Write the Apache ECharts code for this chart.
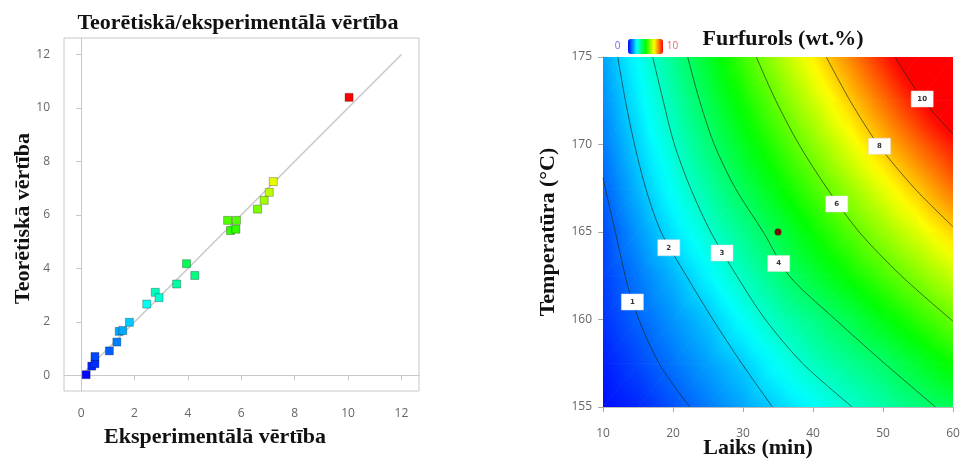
<!DOCTYPE html>
<html><head><meta charset="utf-8">
<script src="https://cdn.jsdelivr.net/npm/echarts@6/dist/echarts.min.js"></script>
<style>html,body{margin:0;padding:0;background:#fff}#c{width:962px;height:462px}</style>
</head><body><div id="c"></div>
<script>
// ---------- Left chart: theoretical vs experimental values ----------
const experimental = [0.19,0.40,0.52,0.52,1.06,1.34,1.43,1.56,1.81,2.46,2.78,2.92,3.58,3.95,4.26,5.49,5.82,5.60,5.80,6.61,6.86,7.05,7.20,10.04];
const theoretical  = [0.03,0.35,0.44,0.71,0.92,1.25,1.65,1.68,1.99,2.67,3.11,2.91,3.42,4.18,3.74,5.80,5.80,5.42,5.47,6.22,6.55,6.85,7.25,10.40];
const parityLine = [0, 12];
const leftTicks = [0, 2, 4, 6, 8, 10, 12];

// ---------- Right chart: furfural response surface ----------
const timeNodes = [10, 15, 20, 25, 30, 35, 40, 45, 50, 55, 60];
const tempNodes = [155, 157.5, 160, 162.5, 165, 167.5, 170, 172.5, 175];
const furfuralGrid = [
  [0.10, 0.37, 0.80, 1.22, 1.64, 2.07, 2.51, 2.95, 3.37, 3.79, 4.20],
  [0.28, 0.71, 1.15, 1.58, 2.02, 2.60, 3.13, 3.56, 3.98, 4.54, 5.10],
  [0.50, 0.98, 1.46, 1.93, 2.57, 3.18, 3.68, 4.22, 4.82, 5.42, 6.02],
  [0.62, 1.20, 1.78, 2.43, 3.12, 3.79, 4.43, 5.05, 5.68, 6.31, 6.96],
  [0.72, 1.49, 2.24, 2.94, 3.61, 4.31, 5.04, 5.77, 6.49, 7.20, 7.91],
  [0.95, 1.81, 2.63, 3.41, 4.17, 4.93, 5.69, 6.48, 7.28, 8.08, 8.90],
  [1.20, 2.09, 2.96, 3.84, 4.68, 5.50, 6.35, 7.24, 8.12, 8.97, 9.78],
  [1.40, 2.34, 3.28, 4.22, 5.14, 6.06, 7.00, 7.94, 8.90, 9.85, 10.80],
  [1.60, 2.58, 3.58, 4.59, 5.61, 6.62, 7.62, 8.63, 9.65, 10.67, 11.70]
];
const contourLevels = [1, 2, 3, 4, 6, 8, 10];
const contour1  = [[10,168.1],[11.7,165.1],[14.2,161.0],[18.0,157.5],[22.4,155]];
const contour2  = [[12.1,175],[13.2,172.5],[14.5,170],[16.1,167.5],[18.3,165],[21.9,162.5],[25.7,160],[29.8,157.5],[34.2,155]];
const contour3  = [[17.1,175],[18.6,172.5],[20.2,170],[22.5,167.5],[25.4,165],[29.1,162.5],[33.2,160],[38.5,157.5],[45.6,155]];
const contour4  = [[22.1,175],[23.8,172.5],[25.9,170],[28.9,167.5],[32.9,165],[36.6,162.5],[43.2,160],[50.2,157.5],[57.5,155]];
const contour6  = [[31.9,175],[34.7,172.5],[38.0,170],[42.0,167.5],[46.6,165],[52.6,162.5],[60,159.9]];
const contour8  = [[41.9,175],[45.3,172.5],[49.3,170],[54.5,167.5],[60,165.3]];
const contour10 = [[51.7,175],[55.8,172.5],[60,170.6]];
const labelTimes = [14.2, 19.4, 27.0, 35.1, 43.4, 49.5, 55.6];
const labelTemps = [161.0, 164.1, 163.8, 163.2, 166.6, 169.9, 172.6];
const centerPoint = [35, 165];
const legendMin = 0, legendMax = 10;

// ---------- colour scale ----------
const JET = [[0,[0,0,255]],[2.5,[0,255,255]],[5,[0,255,0]],[7.5,[255,255,0]],[10,[255,0,0]]];
const jetColors = JET.map(s => 'rgb(' + s[1].join(',') + ')');
function jet(v) {
  v = Math.max(0, Math.min(10, v));
  for (let k = 1; k < JET.length; k++) {
    if (v <= JET[k][0]) {
      const a = JET[k-1], b = JET[k], f = (v - a[0]) / (b[0] - a[0]);
      return 'rgb(' + [0,1,2].map(c => Math.round(a[1][c] + (b[1][c] - a[1][c]) * f)).join(',') + ')';
    }
  }
  return 'rgb(255,0,0)';
}
function triangle(pts, vals) {
  const [p0, p1, p2] = pts, [v0, v1, v2] = vals;
  const e1x = p1[0]-p0[0], e1y = p1[1]-p0[1], e2x = p2[0]-p0[0], e2y = p2[1]-p0[1];
  const d1 = v1 - v0, d2 = v2 - v0, det = e1x*e2y - e1y*e2x;
  const vmin = Math.min(v0, v1, v2), vmax = Math.max(v0, v1, v2);
  let fill;
  if (Math.abs(det) < 1e-9 || vmax - vmin < 1e-6) fill = jet((v0+v1+v2)/3);
  else {
    const gx = (d1*e2y - d2*e1y) / det, gy = (e1x*d2 - e2x*d1) / det, g2 = gx*gx + gy*gy;
    const sx = p0[0] + gx*(vmin-v0)/g2, sy = p0[1] + gy*(vmin-v0)/g2;
    const ex = p0[0] + gx*(vmax-v0)/g2, ey = p0[1] + gy*(vmax-v0)/g2;
    const stops = [];
    for (let s = 0; s <= 6; s++) stops.push({offset: s/6, color: jet(vmin + (vmax-vmin)*s/6)});
    fill = new echarts.graphic.LinearGradient(sx, sy, ex, ey, stops, true);
  }
  return {type: 'polygon', shape: {points: pts}, style: {fill: fill, stroke: fill, lineWidth: 0.8}};
}

const cells = [];
for (let r = 0; r < tempNodes.length - 1; r++)
  for (let c = 0; c < timeNodes.length - 1; c++)
    cells.push([timeNodes[c], tempNodes[r], timeNodes[c+1], tempNodes[r+1],
      furfuralGrid[r][c], furfuralGrid[r][c+1], furfuralGrid[r+1][c], furfuralGrid[r+1][c+1]]);

const contours = [contour1, contour2, contour3, contour4, contour6, contour8, contour10];

const titleFont = {fontFamily: 'Liberation Serif', fontWeight: 'bold', fontSize: 22, color: '#111'};
const tickFont = {fontFamily: 'Open Sans', fontSize: 12, color: '#666'};

const chart = echarts.init(document.getElementById('c'));
chart.setOption({
  animation: false,
  title: [
    {text: 'Teorētiskā/eksperimentālā vērtība', left: 238, top: 12, textAlign: 'center', padding: 0, textStyle: titleFont},
    {text: 'Furfurols (wt.%)', left: 783, top: 28, textAlign: 'center', padding: 0, textStyle: titleFont}
  ],
  grid: [
    {left: 64, top: 38, width: 355, height: 353, show: true, borderColor: '#c8c8c8', borderWidth: 1, backgroundColor: '#fff', outerBoundsMode: 'none'},
    {left: 603, top: 57, width: 350, height: 350, outerBoundsMode: 'none'}
  ],
  visualMap: [{
    type: 'continuous', seriesIndex: 0, dimension: 1, min: legendMin, max: legendMax,
    orient: 'horizontal', left: 613, top: 24, itemWidth: 15, itemHeight: 35,
    calculable: false, text: null, inRange: {color: jetColors}, hoverLink: false
  }],
  graphic: [
    {type: 'text', x: 617.5, y: 46.5, style: {text: String(legendMin), fill: '#6a6af2', font: '10px "Open Sans"', align: 'center', verticalAlign: 'middle'}},
    {type: 'text', x: 672.5, y: 46.5, style: {text: String(legendMax), fill: '#e06a6a', font: '10px "Open Sans"', align: 'center', verticalAlign: 'middle'}}
  ],
  xAxis: [
    {gridIndex: 0, type: 'value', min: -0.64, max: 12.66,
     name: 'Eksperimentālā vērtība', nameLocation: 'middle', nameGap: 35, nameMoveOverlap: false,
     nameTextStyle: Object.assign({padding: [0, 53, 0, 0]}, titleFont),
     axisLine: {show: true, lineStyle: {color: '#c8c8c8'}},
     axisTick: {show: true, customValues: leftTicks, length: 5, lineStyle: {color: '#c8c8c8'}},
     axisLabel: Object.assign({customValues: leftTicks, margin: 17}, tickFont),
     splitLine: {show: false}},
    {gridIndex: 1, type: 'value', min: 10, max: 60, interval: 10,
     name: 'Laiks (min)', nameLocation: 'middle', nameGap: 30, nameMoveOverlap: false,
     nameTextStyle: Object.assign({padding: [0, 40, 0, 0]}, titleFont),
     axisLine: {show: true, lineStyle: {color: '#bbb'}},
     axisTick: {show: true, length: 5, lineStyle: {color: '#aaa'}},
     axisLabel: Object.assign({margin: 21}, tickFont),
     splitLine: {show: false}}
  ],
  yAxis: [
    {gridIndex: 0, type: 'value', min: -0.58, max: 12.62,
     name: 'Teorētiskā vērtība', nameLocation: 'middle', nameGap: 30, nameRotate: 90, nameMoveOverlap: false,
     nameTextStyle: Object.assign({padding: [0, 8, 0, 0]}, titleFont),
     axisLine: {show: true, lineStyle: {color: '#c8c8c8'}},
     axisTick: {show: true, customValues: leftTicks, length: 5, lineStyle: {color: '#c8c8c8'}},
     axisLabel: Object.assign({customValues: leftTicks, margin: 14}, tickFont),
     splitLine: {show: false}},
    {gridIndex: 1, type: 'value', min: 155, max: 175, interval: 5,
     name: 'Temperatūra (°C)', nameLocation: 'middle', nameGap: 44, nameRotate: 90, nameMoveOverlap: false,
     nameTextStyle: titleFont,
     axisLine: {show: true, lineStyle: {color: '#bbb'}},
     axisTick: {show: true, length: 5, lineStyle: {color: '#aaa'}},
     axisLabel: Object.assign({margin: 11}, tickFont),
     splitLine: {show: false}}
  ],
  series: [
    {type: 'scatter', xAxisIndex: 0, yAxisIndex: 0, symbol: 'rect', symbolSize: 8, z: 5,
     data: experimental.map((x, i) => [x, theoretical[i]]),
     itemStyle: {borderColor: 'rgba(0,0,0,0.28)', borderWidth: 1, opacity: 1}},
    {type: 'line', xAxisIndex: 0, yAxisIndex: 0, symbol: 'none', z: 3, silent: true,
     data: [[parityLine[0], parityLine[0]], [parityLine[1], parityLine[1]]],
     lineStyle: {color: '#c8c8c8', width: 1.5}},
    {type: 'custom', xAxisIndex: 1, yAxisIndex: 1, clip: true, silent: true, z: 1,
     data: cells, encode: {x: [0, 2], y: [1, 3]},
     renderItem: function (params, api) {
       const t0 = api.value(0), T0 = api.value(1), t1 = api.value(2), T1 = api.value(3);
       const a = api.value(4), b = api.value(5), c = api.value(6), d = api.value(7);
       const p00 = api.coord([t0, T0]), p10 = api.coord([t1, T0]), p01 = api.coord([t0, T1]), p11 = api.coord([t1, T1]);
       return {type: 'group', children: [triangle([p00, p10, p11], [a, b, d]), triangle([p00, p11, p01], [a, d, c])]};
     }},
    ...contours.map(path => ({
      type: 'line', xAxisIndex: 1, yAxisIndex: 1, data: path, smooth: 0.3, symbol: 'none', silent: true, z: 3,
      lineStyle: {color: 'rgba(25,40,25,0.65)', width: 1}
    })),
    {type: 'scatter', xAxisIndex: 1, yAxisIndex: 1, symbol: 'rect', symbolSize: [22, 16], z: 6, silent: true,
     data: contourLevels.map((lv, k) => [labelTimes[k], labelTemps[k], lv]),
     itemStyle: {color: '#ffffff', borderColor: '#e0e0e0', borderWidth: 0.5, opacity: 1},
     label: {show: true, position: 'inside', formatter: p => String(p.value[2]),
             fontSize: 7, fontWeight: 'bold', color: '#333', fontFamily: 'DejaVu Sans'}},
    {type: 'scatter', xAxisIndex: 1, yAxisIndex: 1, symbol: 'circle', symbolSize: 7, z: 6, silent: true,
     data: [centerPoint], itemStyle: {color: '#6e1208', opacity: 1}}
  ]
});
</script></body></html>
